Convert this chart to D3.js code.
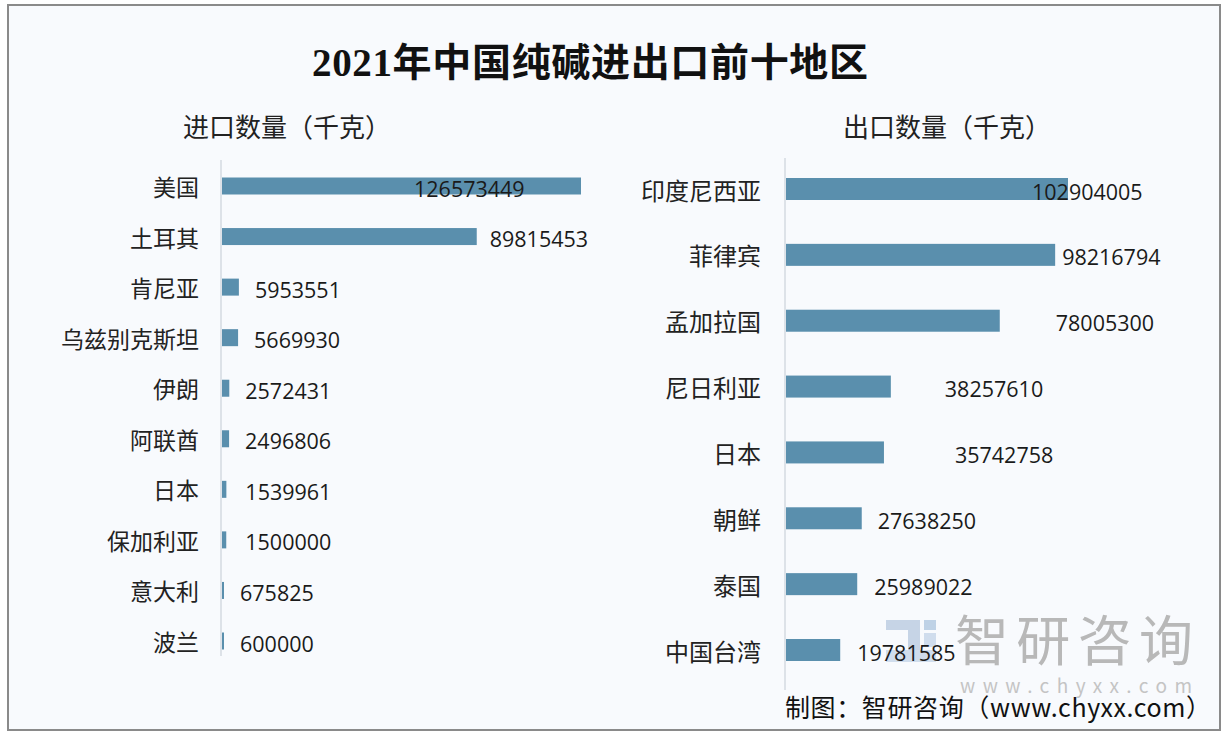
<!DOCTYPE html>
<html>
<head>
<meta charset="utf-8">
<script src="https://cdn.jsdelivr.net/npm/d3@7"></script>
<style>
  body { margin: 0; background: #fff; }
  svg text { font-family: "Noto Sans CJK SC", "Noto Sans", sans-serif; }
</style>
</head>
<body>
<svg width="1232" height="740"></svg>
<script>
// 进口
var importRegions = ["美国", "土耳其", "肯尼亚", "乌兹别克斯坦", "伊朗", "阿联酋", "日本", "保加利亚", "意大利", "波兰"];
var importValues = [126573449, 89815453, 5953551, 5669930, 2572431, 2496806, 1539961, 1500000, 675825, 600000];
// 出口
var exportRegions = ["印度尼西亚", "菲律宾", "孟加拉国", "尼日利亚", "日本", "朝鲜", "泰国", "中国台湾"];
var exportValues = [102904005, 98216794, 78005300, 38257610, 35742758, 27638250, 25989022, 19781585];

// label nudges (px from bar end), as placed in the original
var importNudge = [-167, 13, 16, 16, 16, 16, 19, 19, 16, 16];
var exportNudge = [-36, 7, 56, 54, 71, 16, 17, 17];

var barColor = '#5a8fad';

var svg = d3.select('svg');

// frame
svg.append('rect')
    .attr('x', 8).attr('y', 5)
    .attr('width', 1212).attr('height', 725)
    .attr('fill', '#f8fafd')
    .attr('stroke', '#8a8a8a')
    .attr('stroke-width', 2);

svg.append('text')
    .text('2021年中国纯碱进出口前十地区')
    .attr('x', 590)
    .attr('y', 76)
    .attr('text-anchor', 'middle')
    .attr('textLength', 556)
    .style('font-family', '"Liberation Serif", "Noto Sans CJK SC", serif')
    .style('font-weight', 'bold')
    .style('font-size', '39px')
    .attr('fill', '#111');

// watermark
var wm = svg.append('g').attr('id', 'watermark');
wm.append('rect').attr('x', 886).attr('y', 620).attr('width', 34).attr('height', 10).attr('fill', '#b9cbe0').attr('opacity', 0.8);
wm.append('rect').attr('x', 908).attr('y', 630).attr('width', 12).attr('height', 20).attr('fill', '#b9cbe0').attr('opacity', 0.8);
wm.append('rect').attr('x', 886).attr('y', 650).attr('width', 50).attr('height', 12).attr('fill', '#c6d6e8').attr('opacity', 0.8);
wm.append('rect').attr('x', 924).attr('y', 620).attr('width', 12).attr('height', 10).attr('fill', '#b0c8e0').attr('opacity', 0.8);
wm.append('rect').attr('x', 924).attr('y', 633).attr('width', 12).attr('height', 14).attr('fill', '#c6d6e8').attr('opacity', 0.8);
wm.append('text')
    .text('智研咨询')
    .attr('x', 955).attr('y', 661)
    .attr('textLength', 238)
    .style('font-size', '54px')
    .attr('fill', '#b8b8b8');
wm.append('text')
    .text('www.chyxx.com')
    .attr('x', 960).attr('y', 693)
    .attr('textLength', 232)
    .style('font-size', '19px')
    .attr('fill', '#c4c4c4');

function drawPanel(opt) {
    var g = svg.append('g');

    g.append('text')
        .text(opt.title)
        .attr('x', opt.titleX)
        .attr('y', 137)
        .style('font-size', '26px')
        .attr('fill', '#222');

    var x = d3.scaleLinear()
        .domain([0, d3.max(opt.values)])
        .range([opt.x0, opt.xMax]);
    var y = d3.scalePoint()
        .domain(opt.regions)
        .range(opt.yRange);

    g.append('line')
        .attr('x1', opt.x0 - 1).attr('x2', opt.x0 - 1)
        .attr('y1', opt.axisY[0]).attr('y2', opt.axisY[1])
        .attr('stroke', '#dde2e8')
        .attr('stroke-width', 2);

    var rows = g.selectAll('g.row')
        .data(opt.regions.map(function(r, i) { return {region: r, value: opt.values[i], nudge: opt.nudge[i]}; }))
        .enter().append('g')
        .attr('class', 'row');

    rows.append('rect')
        .attr('x', opt.x0)
        .attr('y', function(d) { return y(d.region) - opt.barH / 2; })
        .attr('width', function(d) { return Math.max(2, x(d.value) - opt.x0); })
        .attr('height', opt.barH)
        .attr('fill', barColor);

    rows.append('text')
        .text(function(d) { return d.region; })
        .attr('x', opt.labelX)
        .attr('y', function(d) { return y(d.region); })
        .attr('text-anchor', 'end')
        .attr('dominant-baseline', 'central')
        .style('font-size', opt.labelSize)
        .attr('fill', '#222');

    rows.append('text')
        .text(function(d) { return d.value; })
        .attr('x', function(d) { return Math.max(x(d.value), opt.x0 + 2) + d.nudge; })
        .attr('y', function(d) { return y(d.region) + 2; })
        .attr('dominant-baseline', 'central')
        .style('font-family', '"Open Sans", "Noto Sans", sans-serif')
        .style('font-size', '21.5px')
        .attr('fill', '#1a1a1a');
}

drawPanel({
    title: '进口数量（千克）', titleX: 183,
    regions: importRegions, values: importValues, nudge: importNudge,
    x0: 222, xMax: 581, yRange: [186, 641], axisY: [160, 656],
    barH: 17, labelX: 199, labelSize: '23px'
});

drawPanel({
    title: '出口数量（千克）', titleX: 843,
    regions: exportRegions, values: exportValues, nudge: exportNudge,
    x0: 786, xMax: 1068, yRange: [189, 650], axisY: [158, 690],
    barH: 22, labelX: 761, labelSize: '24px'
});

svg.append('text')
    .text('制图：智研咨询（www.chyxx.com）')
    .attr('x', 785)
    .attr('y', 717)
    .attr('textLength', 426)
    .style('font-size', '25px')
    .attr('fill', '#111');
</script>
</body>
</html>
